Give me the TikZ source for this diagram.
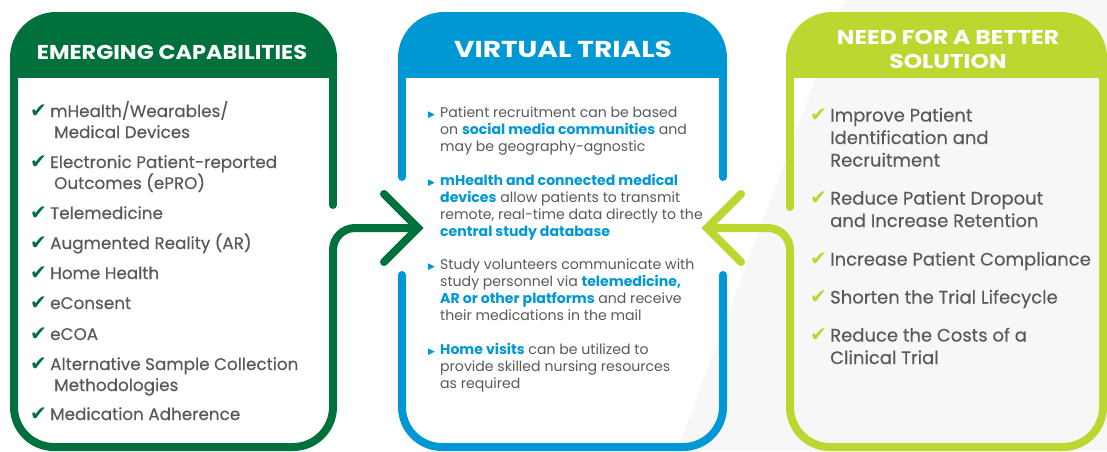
\documentclass[tikz,border=0pt]{standalone}
\usepackage{fontspec}
\setmainfont{Poppins}
\newfontfamily\medfont{Poppins}[FakeBold=0.3]
\newfontfamily\symfont{DejaVu Sans}

\definecolor{capgreen}{HTML}{00703C}
\definecolor{vtblue}{HTML}{0098D4}
\definecolor{needlime}{HTML}{BDD630}
\definecolor{bodygray}{HTML}{58595B}
\definecolor{shadegray}{HTML}{F7F7F7}

\newcommand{\tickmark}[1]{\makebox[20pt][l]{\symfont\fontsize{20}{20}\selectfont\color{#1}✔}}
\newcommand{\tribullet}{\makebox[12pt][l]{\symfont\fontsize{9}{9}\selectfont\color{vtblue}▶}}
\newcommand{\vtkey}[1]{\textcolor{vtblue}{\bfseries #1}}

\tikzset{
  rim/.style={line width=8pt, line cap=round, line join=round},
  rimtip/.style={line width=8pt, line cap=round, line join=miter},
  headlabel/.style={text=white, font=\bfseries\fontsize{20}{24}\selectfont, align=center, inner sep=0pt, anchor=base},
  capitem/.style={anchor=base west, inner sep=0pt, align=left, text=bodygray, font=\medfont\fontsize{16.8}{21}\selectfont},
  vtitem/.style={anchor=base west, inner sep=0pt, align=left, text=bodygray, font=\fontsize{14.1}{17.3}\selectfont},
  needitem/.style={anchor=base west, inner sep=0pt, align=left, text=bodygray, font=\medfont\fontsize{18}{22.5}\selectfont},
}

\begin{document}
\begin{tikzpicture}[x=1pt,y=-1pt]
\useasboundingbox (0,0) rectangle (1107,451);
% soft grey facet behind the right side
\fill[shadegray] (845,0) -- (1107,0) -- (1107,451) -- (677,451) -- cycle;

% header bands
\begin{scope}
\clip (0,0) rectangle (1107,77);
\fill[capgreen, rounded corners=46pt] (10,12) rectangle (337,150);
\fill[vtblue, rounded corners=46pt] (398,12) rectangle (727,150);
\fill[needlime, rounded corners=46pt] (786,12) rectangle (1107,150);
\end{scope}

% emerging capabilities frame and arrow
\draw[rim, capgreen] (333,70) -- (333,205);
\draw[rim, capgreen, line cap=butt, rounded corners=40pt] (14,70) -- (14,447) -- (333,447) -- (333,300);
\draw[rim, capgreen, line cap=butt, rounded corners=22pt] (333,300) -- (333,228) -- (418,228);
\draw[rimtip, capgreen] (384,194) -- (418,228) -- (384,262);

% virtual trials frame
\draw[rim, vtblue] (402,70) -- (402,177);
\draw[rim, vtblue] (723,70) -- (723,177);
\draw[rim, vtblue, rounded corners=40pt] (402,275) -- (402,447) -- (723,447) -- (723,275);

% better solution frame and arrow
\draw[rim, needlime] (790,70) -- (790,207);
\draw[rim, needlime, line cap=butt, rounded corners=40pt] (1103,70) -- (1103,447) -- (790,447) -- (790,300);
\draw[rim, needlime, line cap=butt, rounded corners=22pt] (790,300) -- (790,228) -- (707,228);
\draw[rimtip, needlime] (741,194) -- (707,228) -- (741,262);

% headings (base = last line)
\node[headlabel] (emhead) at (172,59.5) {\scalebox{1.12}[1]{EMERGING CAPABILITIES}};
\node[headlabel, font=\bfseries\fontsize{23}{26}\selectfont] (vthead) at (563,57) {\scalebox{1.22}[1]{VIRTUAL TRIALS}};
\node[headlabel] (needhead) at (948,68) {\scalebox{1.17}[1]{NEED FOR A BETTER}\\\scalebox{1.17}[1]{SOLUTION}};

% left list
\node[capitem] (em1) at (30,138) {\tickmark{capgreen}mHealth/Wearables/\\\hspace*{24pt}Medical Devices};
\node[capitem] (em2) at (30,189) {\tickmark{capgreen}Electronic Patient-reported\\\hspace*{24pt}Outcomes (ePRO)};
\node[capitem] (em3) at (30,219) {\tickmark{capgreen}Telemedicine};
\node[capitem] (em4) at (30,249) {\tickmark{capgreen}Augmented Reality (AR)};
\node[capitem] (em5) at (30,279) {\tickmark{capgreen}Home Health};
\node[capitem] (em6) at (30,309) {\tickmark{capgreen}eConsent};
\node[capitem] (em7) at (30,340) {\tickmark{capgreen}eCOA};
\node[capitem] (em8) at (30,391) {\tickmark{capgreen}Alternative Sample Collection\\\hspace*{24pt}Methodologies};
\node[capitem] (em9) at (30,420) {\tickmark{capgreen}Medication Adherence};

% middle list
\node[vtitem] (vt1) at (428,151.6) {\tribullet Patient recruitment can be based\\\hspace*{12pt}on \vtkey{social media communities} and\\\hspace*{12pt}may be geography-agnostic};
\node[vtitem] (vt2) at (428,236.9) {\tribullet\vtkey{mHealth and connected medical}\\\hspace*{12pt}\vtkey{devices} allow patients to transmit\\\hspace*{12pt}remote, real-time data directly to the\\\hspace*{12pt}\vtkey{central study database}};
\node[vtitem] (vt3) at (428,320.9) {\tribullet Study volunteers communicate with\\\hspace*{12pt}study personnel via \vtkey{telemedicine,}\\\hspace*{12pt}\vtkey{AR or other platforms} and receive\\\hspace*{12pt}their medications in the mail};
\node[vtitem] (vt4) at (428,388.6) {\tribullet\vtkey{Home visits} can be utilized to\\\hspace*{12pt}provide skilled nursing resources\\\hspace*{12pt}as required};

% right list
\node[needitem] (nd1) at (810,166.5) {\tickmark{needlime}Improve Patient\\\hspace*{20pt}Identification and\\\hspace*{20pt}Recruitment};
\node[needitem] (nd2) at (810,227) {\tickmark{needlime}Reduce Patient Dropout\\\hspace*{20pt}and Increase Retention};
\node[needitem] (nd3) at (810,265.5) {\tickmark{needlime}Increase Patient Compliance};
\node[needitem] (nd4) at (810,303.5) {\tickmark{needlime}Shorten the Trial Lifecycle};
\node[needitem] (nd5) at (810,364) {\tickmark{needlime}Reduce the Costs of a\\\hspace*{20pt}Clinical Trial};
\end{tikzpicture}
\end{document}
